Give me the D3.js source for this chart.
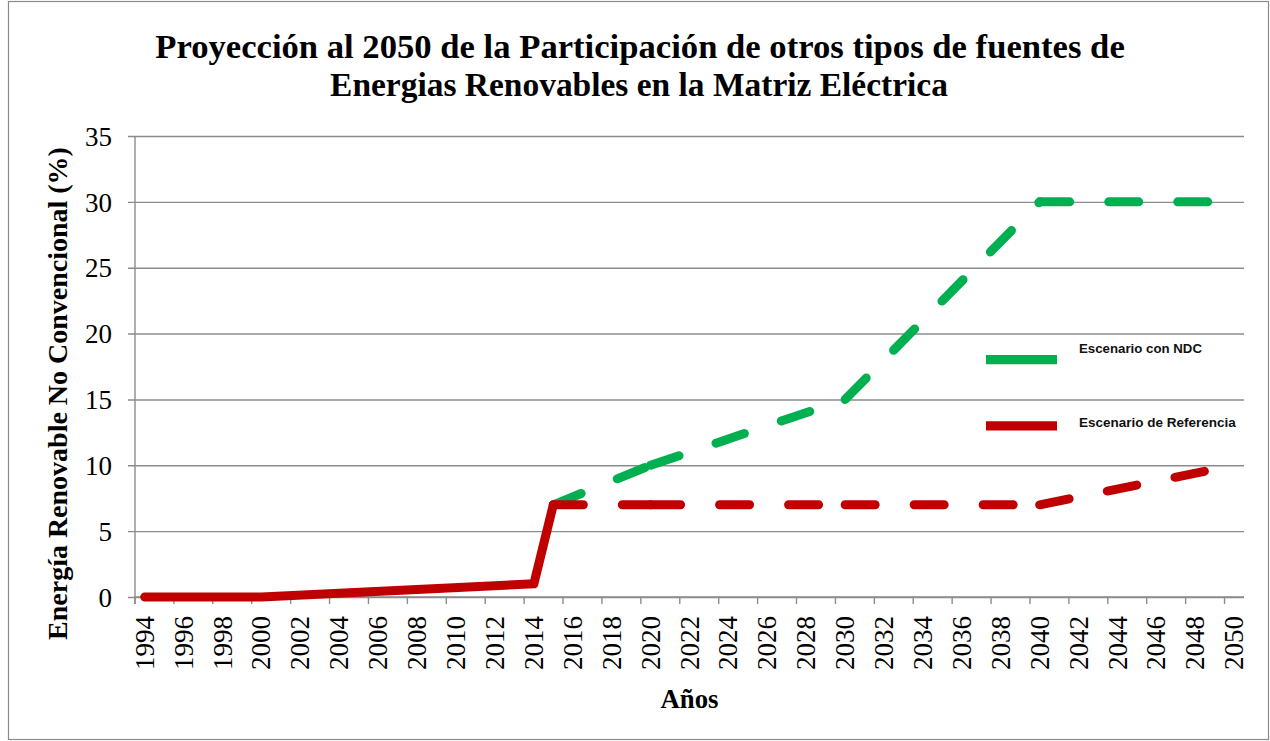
<!DOCTYPE html>
<html><head><meta charset="utf-8">
<script src="https://cdn.jsdelivr.net/npm/d3@7"></script>
<style>html,body{margin:0;padding:0;background:#fff;}svg{display:block;}</style>
</head><body>
<svg id="c" width="1270" height="741"></svg>
<script>
// ---- data ----
const categories = [1994,1995,1996,1997,1998,1999,2000,2001,2002,2003,2004,2005,2006,2007,2008,2009,2010,
  2011,2012,2013,2014,2015,2016,2017,2018,2019,2020,2021,2022,2023,2024,2025,2026,2027,2028,2029,2030,
  2031,2032,2033,2034,2035,2036,2037,2038,2039,2040,2041,2042,2043,2044,2045,2046,2047,2048,2049,2050];
const xTickLabels = [1994,1996,1998,2000,2002,2004,2006,2008,2010,2012,2014,2016,2018,2020,2022,2024,
  2026,2028,2030,2032,2034,2036,2038,2040,2042,2044,2046,2048,2050];
const yTicks = [0,5,10,15,20,25,30,35];
const histYears = [1994, 2000, 2014, 2015];
const histValues = [0, 0, 1.0, 7];
const projYears = [2015, 2020, 2030, 2040, 2050];
const ndcValues = [7, 10, 15, 30, 30];
const refValues = [7, 7, 7, 7, 10];
const seriesNames = ["Escenario con NDC", "Escenario de Referencia"];
const title = ["Proyección al 2050 de la Participación de otros tipos de fuentes de",
               "Energias Renovables en la Matriz Eléctrica"];
const yTitle = "Energía Renovable No Convencional (%)";
const xTitle = "Años";

// ---- layout ----
const GREEN = "#00B050", RED = "#C00000", GRID = "#8c8c8c";
const L = 135, R = 1244, T = 136, B = 597;
const svg = d3.select("#c");

svg.append("rect").attr("x", 8.5).attr("y", 1.5).attr("width", 1260).attr("height", 738)
  .attr("fill", "#fff").attr("stroke", "#8a8a8a").attr("stroke-width", 1.2);

const x = d3.scaleBand().domain(categories).range([L, R]).padding(0);
const xc = d => x(d) + x.bandwidth() / 2;
const y = d3.scaleLinear().domain([0, 35]).range([B, T]);

function fit(sel, target) {
  const w = sel.node().getComputedTextLength();
  const fs = parseFloat(sel.attr("font-size"));
  sel.attr("font-size", fs * target / w);
}

// title
const serif = "'Liberation Serif', 'DejaVu Serif', serif";
const t1 = svg.append("text").attr("x", 640).attr("y", 58).attr("text-anchor", "middle")
  .attr("font-family", serif).attr("font-weight", "bold").attr("font-size", 33).text(title[0]);
fit(t1, 970);
const t2 = svg.append("text").attr("x", 639).attr("y", 96).attr("text-anchor", "middle")
  .attr("font-family", serif).attr("font-weight", "bold").attr("font-size", 33).text(title[1]);
fit(t2, 618);

// gridlines + y axis
const yAxis = d3.axisLeft(y).tickValues(yTicks).tickSize(-(R - L)).tickPadding(16).tickSizeOuter(0);
const gy = svg.append("g").attr("transform", `translate(${L},0)`).call(yAxis);
gy.select(".domain").remove();
gy.selectAll(".tick line").attr("stroke", GRID).attr("stroke-width", 1.4).attr("x1", -7);
gy.selectAll(".tick text").attr("font-family", serif).attr("font-size", 27).attr("fill", "#000")
  .attr("x", -23).attr("dy", "0.34em");
svg.append("line").attr("x1", L).attr("x2", L).attr("y1", T).attr("y2", B + 7)
  .attr("stroke", GRID).attr("stroke-width", 1.4);

// x axis
const gx = svg.append("g").attr("transform", `translate(0,${B})`);
gx.append("line").attr("x1", L).attr("x2", R).attr("y1", 0).attr("y2", 0)
  .attr("stroke", GRID).attr("stroke-width", 1.4);
const tickBounds = categories.filter((d, i) => i % 2 === 0).map(d => x(d));
gx.selectAll("line.tk").data(tickBounds).join("line").attr("class", "tk")
  .attr("x1", d => d).attr("x2", d => d).attr("y1", 0).attr("y2", 7)
  .attr("stroke", GRID).attr("stroke-width", 1.4);
gx.selectAll("text.lb").data(xTickLabels).join("text").attr("class", "lb")
  .attr("transform", d => `translate(${xc(d) + 9},${19}) rotate(-90)`)
  .attr("text-anchor", "end").attr("font-family", serif).attr("font-size", 27).attr("fill", "#000")
  .text(d => d);

// axis titles
const xt = svg.append("text").attr("x", 689.5).attr("y", 708).attr("text-anchor", "middle")
  .attr("font-family", serif).attr("font-weight", "bold").attr("font-size", 24).text(xTitle);
fit(xt, 58);
const yt = svg.append("text").attr("transform", "translate(67,393.5) rotate(-90)").attr("text-anchor", "middle")
  .attr("font-family", serif).attr("font-weight", "bold").attr("font-size", 24).text(yTitle);
fit(yt, 493);

// lines
const line = d3.line().x(d => xc(d[0])).y(d => y(d[1]));
const SW = 9;
function dashedSegments(years, vals, color) {
  const g = svg.append("g");
  for (let i = 0; i < years.length - 1; i++) {
    g.append("path").attr("d", line([[years[i], vals[i]], [years[i + 1], vals[i + 1]]]))
      .attr("fill", "none").attr("stroke", color).attr("stroke-width", SW)
      .attr("stroke-linecap", "round").attr("stroke-dasharray", "30 39");
  }
}
dashedSegments(projYears, ndcValues, GREEN);
svg.append("path").attr("d", line(histYears.map((d, i) => [d, histValues[i]])))
  .attr("fill", "none").attr("stroke", RED).attr("stroke-width", SW)
  .attr("stroke-linecap", "round").attr("stroke-linejoin", "round");
dashedSegments(projYears, refValues, RED);

// legend
const leg = [{name: seriesNames[0], color: GREEN, ly: 359.7, ty: 353.3},
             {name: seriesNames[1], color: RED, ly: 425.8, ty: 426.7}];
const widths = [123, 157];
leg.forEach((d, i) => {
  svg.append("line").attr("x1", 986).attr("x2", 1057).attr("y1", d.ly).attr("y2", d.ly)
    .attr("stroke", d.color).attr("stroke-width", 9.3);
  const t = svg.append("text").attr("x", 1079).attr("y", d.ty)
    .attr("font-family", "'Liberation Sans', Arial, sans-serif").attr("font-weight", "bold")
    .attr("font-size", 12).attr("fill", "#111").text(d.name);
  fit(t, widths[i]);
});
</script>
</body></html>
